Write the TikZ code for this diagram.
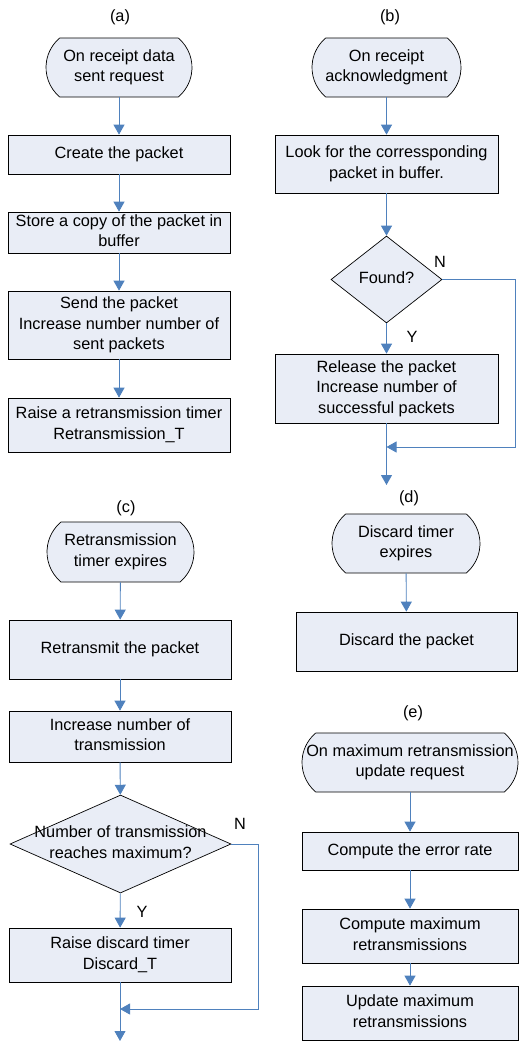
\documentclass[tikz,border=0pt]{standalone}
\usepackage{fontspec}
\setmainfont{Liberation Sans}
\usetikzlibrary{arrows.meta,shapes.geometric,shapes.misc}
\definecolor{boxfill}{RGB}{233,237,246}
\definecolor{flowblue}{RGB}{79,129,189}
% centred text of zero width, so that the shape keeps its given size
\newcommand{\ctext}[1]{\makebox[0pt][c]{\begin{tabular}{@{}c@{}}#1\end{tabular}}}
\begin{document}
\begin{tikzpicture}[x=1pt,y=-1pt,
  every node/.style={font=\fontsize{16.3}{20.5}\selectfont, inner sep=0pt},
  terminal/.style={rounded rectangle, rounded rectangle arc length=100,
    draw=black, line width=0.7pt, fill=boxfill, minimum height=59pt},
  procbox/.style={rectangle, draw=black, line width=0.7pt, fill=boxfill,
    minimum width=222pt},
  decision/.style={diamond, draw=black, line width=0.7pt, fill=boxfill},
  flow/.style={draw=flowblue, line width=0.9pt, -{Triangle[length=10pt,width=11pt]}},
  plain/.style={draw=flowblue, line width=0.9pt},
  caption/.style={}]
\useasboundingbox (0,0) rectangle (520,1042);

% ---------- (a) sending a data packet ----------
\node[caption] (la) at (120,17) {(a)};
\node[terminal, minimum width=146pt] (a0) at (119,67.5) {\ctext{On receipt data\\sent request}};
\node[procbox, minimum height=39pt] (a1) at (119,154.5) {\ctext{Create the packet}};
\node[procbox, minimum height=39pt] (a2) at (119,232.5) {\ctext{Store a copy of the packet in\\buffer}};
\node[procbox, minimum height=68pt] (a3) at (119,325) {\ctext{Send the packet\\Increase number number of\\sent packets}};
\node[procbox, minimum height=54pt] (a4) at (119,425) {\ctext{Raise a retransmission timer\\Retransmission\_T}};
\draw[flow] (a0) -- (a1);
\draw[flow] (a1) -- (a2);
\draw[flow] (a2) -- (a3);
\draw[flow] (a3) -- (a4);

% ---------- (b) receiving an acknowledgment ----------
\node[caption] (lb) at (390,17) {(b)};
\node[terminal, minimum width=149pt] (b0) at (386.5,67.5) {\ctext{On receipt\\acknowledgment}};
\node[procbox, minimum width=223pt, minimum height=58pt] (b1) at (386.5,164) {\ctext{Look for the corressponding\\packet in buffer.}};
\node[decision, minimum width=111pt, minimum height=87pt] (b2) at (386.5,279.5) {\ctext{Found?}};
\node[procbox, minimum width=223pt, minimum height=69pt] (b3) at (386.5,388.5) {\ctext{Release the packet\\Increase number of\\successful packets}};
\node (bn) at (440,262) {N};
\node (by) at (412,337) {Y};
\coordinate (bm) at (386.5,447);
\coordinate (bend) at (386.5,485);
\draw[flow] (b0) -- (b1);
\draw[flow] (b1) -- (b2);
\draw[flow] (b2) -- (b3);
\draw[flow] (b2.east) -- (515,279.5) |- (bm);
\draw[flow] (b3.south) -- (bend);

% ---------- (d) discard timer ----------
\node[caption] (ld) at (409,498) {(d)};
\node[terminal, minimum width=148pt] (d0) at (406,543.5) {\ctext{Discard timer\\expires}};
\node[procbox, minimum width=221pt, minimum height=59pt] (d1) at (406.5,641.5) {\ctext{Discard the packet}};
\draw[flow] (d0) -- (d1);

% ---------- (c) retransmission timer ----------
\node[caption] (lc) at (126,508) {(c)};
\node[terminal, minimum width=147pt, minimum height=60pt] (c0) at (120.5,552) {\ctext{Retransmission\\timer expires}};
\node[procbox, minimum height=59pt] (c1) at (120,649.5) {\ctext{Retransmit the packet}};
\node[procbox, minimum height=51pt] (c2) at (120,736.5) {\ctext{Increase number of\\transmission}};
\node[decision, minimum width=221pt, minimum height=98pt] (c3) at (120.5,844) {\ctext{Number of transmission\\reaches maximum?}};
\node[procbox, minimum height=54pt] (c4) at (120,955) {\ctext{Raise discard timer\\Discard\_T}};
\node (cn) at (240,824) {N};
\node (cy) at (142,912) {Y};
\coordinate (cm) at (120,1009);
\coordinate (cend) at (120,1041);
\draw[flow] (c0) -- (c1);
\draw[flow] (c1) -- (c2);
\draw[flow] (c2) -- (c3);
\draw[flow] (c3) -- (c4);
\draw[flow] (c3.east) -- (258,844) |- (cm);
\draw[flow] (c4.south) -- (cend);

% ---------- (e) maximum retransmission update ----------
\node[caption] (le) at (413,713) {(e)};
\node[terminal, minimum width=216pt] (e0) at (410,762.5) {\ctext{On maximum retransmission\\update request}};
\node[procbox, minimum width=216pt, minimum height=38pt] (e1) at (410,851) {\ctext{Compute the error rate}};
\node[procbox, minimum width=216pt, minimum height=54pt] (e2) at (410,936) {\ctext{Compute maximum\\retransmissions}};
\node[procbox, minimum width=216pt, minimum height=54pt] (e3) at (410,1013) {\ctext{Update maximum\\retransmissions}};
\draw[flow] (e0) -- (e1);
\draw[flow] (e1) -- (e2);
\draw[flow] (e2) -- (e3);
\end{tikzpicture}
\end{document}
